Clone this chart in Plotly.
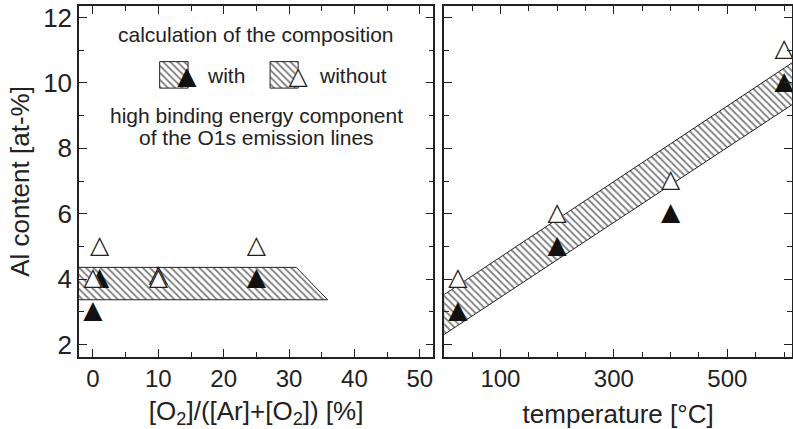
import plotly.graph_objects as go

# ---------------- data ----------------
# left panel: O2 fraction [%]
o2_with_x = [0, 1, 10, 25]
o2_with_y = [3, 4, 4.1, 4]
o2_without_x = [0, 1, 10, 25]
o2_without_y = [4, 5, 4, 5]
# hatched band (left): polygon corners
o2_band_x = [-5, 31.1, 35.9, -5, -5]
o2_band_y = [4.36, 4.36, 3.37, 3.37, 4.36]

# right panel: temperature [°C]
temp_x = [25, 200, 400, 600]
temp_with_y = [3, 5, 6, 10]
temp_without_y = [4, 6, 7, 11]
# hatched band (right): polygon corners
temp_band_x = [0, 620, 620, 0, 0]
temp_band_y = [3.52, 10.68, 9.40, 2.30, 3.52]

# legend keys (left panel coordinates)
key_with_box_x = [10.2, 14.55, 14.55, 10.2, 10.2]
key_with_box_y = [9.84, 9.84, 10.65, 10.65, 9.84]
key_without_box_x = [27.1, 31.4, 31.4, 27.1, 27.1]
key_without_box_y = [9.84, 9.84, 10.65, 10.65, 9.84]
key_with_tri = (14.35, 10.15)
key_without_tri = (31.4, 10.15)

# ticks
y_tickvals = [2, 4, 6, 8, 10, 12]
y_ticktext = ["2", "4", "6", "8", "10", "12"]
o2_tickvals = [0, 10, 20, 30, 40, 50]
o2_ticktext = ["0", "10", "20", "30", "40", "50"]
temp_tickvals = [100, 300, 500]
temp_ticktext = ["100", "300", "500"]

INK = "#222222"
FONT = "Liberation Sans, Arial, sans-serif"
TRI_FONT = "DejaVu Sans"
TRI_SIZE = 25
pattern = dict(shape="\\", size=5, solidity=0.35, fgcolor="#000000", bgcolor="white")

fig = go.Figure()


def band(x, y, xa, ya):
    fig.add_trace(go.Scatter(x=x, y=y, xaxis=xa, yaxis=ya, mode="lines",
                             fill="toself", fillcolor="white", fillpattern=pattern,
                             line=dict(color=INK, width=1), hoverinfo="skip",
                             showlegend=False))


def tris(x, y, xa, ya, filled):
    n = len(x)
    if filled:
        fig.add_trace(go.Scatter(x=x, y=y, xaxis=xa, yaxis=ya, mode="text",
                                 text=["▲"] * n, textposition="middle center",
                                 textfont=dict(family=TRI_FONT, size=TRI_SIZE, color="#111111"),
                                 showlegend=False, cliponaxis=False))
    else:
        fig.add_trace(go.Scatter(x=x, y=y, xaxis=xa, yaxis=ya, mode="text",
                                 text=["▲"] * n, textposition="middle center",
                                 textfont=dict(family=TRI_FONT, size=TRI_SIZE, color="white"),
                                 showlegend=False, cliponaxis=False, hoverinfo="skip"))
        fig.add_trace(go.Scatter(x=x, y=y, xaxis=xa, yaxis=ya, mode="text",
                                 text=["△"] * n, textposition="middle center",
                                 textfont=dict(family=TRI_FONT, size=TRI_SIZE, color=INK),
                                 showlegend=False, cliponaxis=False))


# left panel
band(o2_band_x, o2_band_y, "x", "y")
tris(o2_with_x, o2_with_y, "x", "y", True)
tris(o2_without_x, o2_without_y, "x", "y", False)
# legend keys
band(key_with_box_x, key_with_box_y, "x", "y")
band(key_without_box_x, key_without_box_y, "x", "y")
tris([key_with_tri[0]], [key_with_tri[1]], "x", "y", True)
tris([key_without_tri[0]], [key_without_tri[1]], "x", "y", False)

# right panel
band(temp_band_x, temp_band_y, "x2", "y2")
tris(temp_x, temp_with_y, "x2", "y2", True)
tris(temp_x, temp_without_y, "x2", "y2", False)

axis_common = dict(showline=True, linecolor=INK, linewidth=1.5, mirror="ticks",
                   ticks="inside", ticklen=8, tickwidth=1.2, tickcolor=INK,
                   showgrid=False, zeroline=False, automargin=False)

xtickfont = dict(family=FONT, size=24, color=INK)
ytickfont = dict(family=FONT, size=26, color=INK)

fig.update_layout(
    width=793, height=429,
    margin=dict(l=79, r=1, t=6, b=72),
    paper_bgcolor="white", plot_bgcolor="white",
    font=dict(family=FONT, color=INK),
    xaxis=dict(domain=[0, 0.4969], range=[-2.14, 52.07], anchor="y",
               tickmode="array", tickvals=o2_tickvals, ticktext=o2_ticktext,
               tickfont=xtickfont, ticklabelstandoff=-1,
               minor=dict(ticks="inside", ticklen=5, dtick=5, tick0=0, tickcolor=INK, tickwidth=1.2),
               title=dict(text="[O<sub>2</sub>]/([Ar]+[O<sub>2</sub>]) [%]",
                          font=dict(family=FONT, size=26, color=INK), standoff=15),
               **axis_common),
    yaxis=dict(domain=[0, 1], range=[1.62, 12.35], anchor="x",
               tickmode="array", tickvals=y_tickvals, ticktext=y_ticktext,
               tickfont=ytickfont, ticklabelstandoff=0,
               minor=dict(ticks="inside", ticklen=5, dtick=1, tick0=0, tickcolor=INK, tickwidth=1.2),
               title=dict(text="Al content [at-%]",
                          font=dict(family=FONT, size=26, color=INK), standoff=6),
               **axis_common),
    xaxis2=dict(domain=[0.5123, 1], range=[1, 614], anchor="y2",
                tickmode="array", tickvals=temp_tickvals, ticktext=temp_ticktext,
                tickfont=xtickfont, ticklabelstandoff=-1,
                minor=dict(ticks="inside", ticklen=5, dtick=50, tick0=0, tickcolor=INK, tickwidth=1.2),
                title=dict(text="temperature [°C]",
                           font=dict(family=FONT, size=26, color=INK), standoff=15),
                **axis_common),
    yaxis2=dict(domain=[0, 1], range=[1.62, 12.35], anchor="x2", showticklabels=False,
                tickmode="array", tickvals=y_tickvals,
                minor=dict(ticks="inside", ticklen=5, dtick=1, tick0=0, tickcolor=INK, tickwidth=1.2),
                **axis_common),
)

ann_font = dict(family=FONT, size=21, color=INK)
fig.add_annotation(x=25, y=11.47, xref="x", yref="y", text="calculation of the composition",
                   showarrow=False, font=ann_font)
fig.add_annotation(x=17.1, y=10.24, xref="x", yref="y", text="with", xanchor="left",
                   showarrow=False, font=ann_font)
fig.add_annotation(x=34.2, y=10.24, xref="x", yref="y", text="without", xanchor="left",
                   showarrow=False, font=ann_font)
fig.add_annotation(x=25, y=9.0, xref="x", yref="y", text="high binding energy component",
                   showarrow=False, font=ann_font)
fig.add_annotation(x=25, y=8.32, xref="x", yref="y", text="of the O1s emission lines",
                   showarrow=False, font=ann_font)

fig.write_html("out.html", config={"displayModeBar": False},
               post_script="document.body.style.margin='0px';document.body.style.overflow='hidden';")
